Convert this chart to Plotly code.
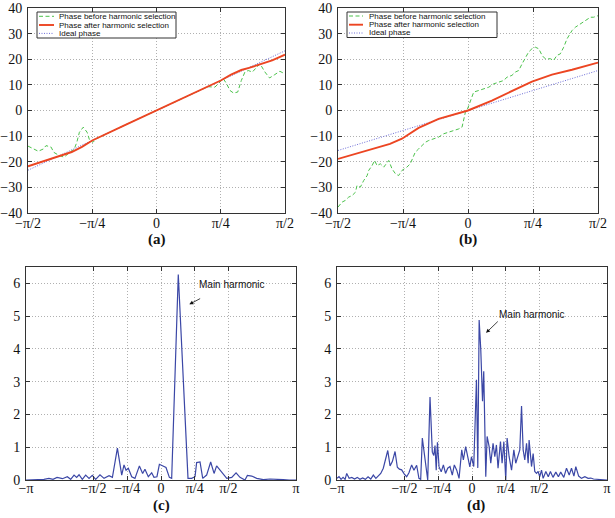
import plotly.graph_objects as go

# ---------------- data (x in units of pi) ----------------
top_tickvals = [-0.5, -0.25, 0, 0.25, 0.5]
top_ticktext = ["−π/2", "−π/4", "0", "π/4", "π/2"]
top_yticks = [-40, -30, -20, -10, 0, 10, 20, 30, 40]
bot_tickvals = [-1, -0.5, -0.25, 0, 0.25, 0.5, 1]
bot_ticktext = ["−π", "−π/2", "−π/4", "0", "π/4", "π/2", "π"]
bot_yticks = [0, 1, 2, 3, 4, 5, 6]

legend_labels = ["Phase before harmonic selection", "Phase after harmonic selection", "Ideal phase"]

# panel (a)
a_before_x = [-0.5, -0.48, -0.46, -0.44, -0.43, -0.41, -0.40, -0.38, -0.36, -0.34, -0.32, -0.31, -0.30,
              -0.285, -0.27, -0.26, -0.247, -0.234, -0.2, -0.1, 0.0, 0.1, 0.2, 0.227, 0.24, 0.26, 0.273,
              0.286, 0.3, 0.316, 0.33, 0.344, 0.357, 0.373, 0.39, 0.403, 0.422, 0.44, 0.46, 0.48, 0.5]
a_before_y = [-13.9, -15.0, -15.9, -15.0, -13.7, -14.3, -16.3, -17.5, -18.2, -16.6, -15.0, -12.4, -8.5,
              -6.5, -8.5, -11.7, -12.4, -11.0, -9.3, -4.6, 0.0, 4.6, 9.3, 9.1, 10.4, 12.4, 10.4,
              7.8, 6.8, 7.2, 11.7, 15.0, 15.6, 15.0, 16.9, 18.2, 15.0, 12.7, 14.0, 15.3, 14.3]
a_after_x = [-0.5, -0.45, -0.4, -0.37, -0.33, -0.29, -0.25, -0.125, 0.0, 0.125, 0.25, 0.29, 0.33, 0.36, 0.4, 0.45, 0.5]
a_after_y = [-21.8, -20.2, -18.6, -17.5, -16.2, -14.2, -11.7, -5.8, 0.0, 5.8, 11.7, 14.0, 15.8, 16.6, 17.8, 19.6, 21.8]
a_ideal_x = [-0.5, 0.5]
a_ideal_y = [-23.3, 23.3]

# panel (b)
b_before_x = [-0.5, -0.485, -0.472, -0.459, -0.446, -0.433, -0.427, -0.414, -0.401, -0.388, -0.382, -0.369,
              -0.359, -0.35, -0.337, -0.324, -0.305, -0.292, -0.279, -0.267, -0.254, -0.235, -0.222, -0.215,
              -0.203, -0.19, -0.177, -0.164, -0.151, -0.132, -0.113, -0.094, -0.074, -0.055, -0.036, -0.023,
              -0.017, -0.01, -0.004, 0.009, 0.022, 0.041, 0.06, 0.08, 0.099, 0.118, 0.137, 0.15, 0.169,
              0.182, 0.195, 0.208, 0.221, 0.233, 0.246, 0.259, 0.272, 0.285, 0.297, 0.317, 0.329, 0.342,
              0.355, 0.368, 0.381, 0.4, 0.413, 0.432, 0.451, 0.471, 0.483, 0.5]
b_before_y = [-37.7, -35.8, -35.1, -33.8, -33.2, -31.9, -29.3, -29.9, -27.3, -25.4, -23.4, -21.5,
              -19.5, -21.5, -20.8, -22.1, -19.5, -22.8, -24.7, -25.4, -23.4, -22.1, -20.8, -18.9,
              -16.3, -15.0, -13.7, -12.4, -11.7, -11.1, -10.4, -9.1, -8.5, -7.8, -7.2, -6.5,
              -3.9, -0.65, 0.0, 3.9, 7.2, 7.8, 8.5, 9.1, 10.4, 11.1, 11.7, 13.0, 13.7,
              15.0, 15.6, 18.2, 20.8, 22.8, 24.1, 24.7, 24.1, 21.5, 20.2, 20.2, 19.5, 21.5,
              22.1, 24.7, 28.0, 31.2, 32.5, 33.8, 35.1, 36.4, 36.4, 37.0]
b_after_x = [-0.5, -0.37, -0.3, -0.254, -0.19, -0.113, 0.0, 0.092, 0.17, 0.246, 0.323, 0.4, 0.5]
b_after_y = [-18.9, -15.0, -13.0, -11.0, -6.8, -3.3, 0.0, 3.9, 7.8, 11.3, 14.0, 15.9, 18.7]
b_ideal_x = [-0.5, 0.5]
b_ideal_y = [-15.6, 15.6]

# panel (c)
c_x = [-1.0, -0.95, -0.9, -0.867, -0.83, -0.8, -0.77, -0.73, -0.694, -0.669, -0.644, -0.625, -0.607,
       -0.583, -0.558, -0.533, -0.509, -0.484, -0.452, -0.422, -0.385, -0.36, -0.323, -0.291, -0.274,
       -0.259, -0.242, -0.217, -0.193, -0.16, -0.136, -0.119, -0.094, -0.069, -0.052, -0.03, -0.012,
       0.017, 0.037, 0.062, 0.079, 0.128, 0.2, 0.227, 0.252, 0.264, 0.289, 0.309, 0.338, 0.368, 0.393,
       0.412, 0.45, 0.487, 0.524, 0.556, 0.585, 0.622, 0.64, 0.672, 0.709, 0.758, 0.807, 0.857, 0.906,
       0.95, 1.0]
c_y = [0.0, 0.01, 0.0, 0.02, 0.05, 0.02, 0.08, 0.04, 0.1, 0.02, 0.15, 0.08, 0.16,
       0.02, 0.15, 0.05, 0.14, 0.02, 0.16, 0.05, 0.13, 0.08, 0.97, 0.15, 0.46,
       0.3, 0.36, 0.1, 0.05, 0.43, 0.2, 0.33, 0.1, 0.22, 0.08, 0.1, 0.48,
       0.42, 0.38, 0.08, 0.05, 6.27, 0.05, 0.05, 0.1, 0.53, 0.55, 0.05, 0.15, 0.55, 0.2,
       0.43, 0.25, 0.05, 0.08, 0.22, 0.08, 0.0, 0.14, 0.12, 0.05, 0.01, 0.03, 0.03, 0.01,
       0.0, 0.0]

# panel (d)
d_x = [-1.0, -0.985, -0.97, -0.955, -0.94, -0.928, -0.91, -0.89, -0.87, -0.85, -0.83, -0.81, -0.79,
       -0.77, -0.75, -0.731, -0.712, -0.694, -0.676, -0.657, -0.644, -0.624, -0.607, -0.59, -0.57,
       -0.553, -0.538, -0.521, -0.501, -0.484, -0.467, -0.447, -0.43, -0.41, -0.393, -0.38, -0.368,
       -0.348, -0.328, -0.311, -0.294, -0.283, -0.274, -0.265, -0.256, -0.244, -0.228, -0.212, -0.196,
       -0.18, -0.163, -0.146, -0.131, -0.113, -0.096, -0.076, -0.064, -0.047, -0.032, -0.016, -0.004,
       0.013, 0.033, 0.043, 0.053, 0.065, 0.078, 0.087, 0.102, 0.112, 0.127, 0.139, 0.156, 0.169,
       0.181, 0.193, 0.211, 0.223, 0.236, 0.25, 0.26, 0.275, 0.293, 0.31, 0.324, 0.341, 0.354, 0.367,
       0.379, 0.391, 0.404, 0.416, 0.423, 0.441, 0.453, 0.465, 0.478, 0.49, 0.502, 0.515, 0.527, 0.547,
       0.565, 0.581, 0.6, 0.621, 0.64, 0.657, 0.68, 0.7, 0.72, 0.737, 0.755, 0.769, 0.79, 0.811, 0.836,
       0.86, 0.88, 0.9, 0.93, 0.96, 1.0]
d_y = [0.05, 0.1, 0.02, 0.08, 0.02, 0.2, 0.05, 0.08, 0.03, 0.08, 0.02, 0.06, 0.02,
       0.1, 0.03, 0.15, 0.05, 0.14, 0.2, 0.36, 0.56, 0.9, 0.43, 0.56, 0.87,
       0.39, 0.33, 0.31, 0.18, 0.1, 0.22, 0.46, 0.3, 0.45, 0.05, 0.02, 1.28,
       0.71, 0.0, 2.53, 0.85, 0.75, 1.05, 0.3, 1.15, 0.4, 0.25, 0.46, 0.2,
       0.36, 0.41, 0.15, 0.46, 0.3, 0.05, 0.92, 0.61, 1.02, 0.71, 0.4, 0.71,
       0.41, 3.06, 0.37, 4.88, 3.98, 2.4, 3.32, 0.1, 1.33, 1.02, 0.51, 1.12, 0.71,
       1.07, 0.36, 1.17, 0.51, 1.17, 0.0, 1.28, 0.71, 0.3, 0.92, 0.51, 0.71, 0.92, 2.26,
       0.92, 0.61, 1.12, 0.51, 1.22, 0.41, 0.81, 0.26, 0.2, 0.26, 0.1, 0.3, 0.05, 0.26,
       0.1, 0.26, 0.08, 0.24, 0.1, 0.24, 0.08, 0.36, 0.15, 0.36, 0.12, 0.41, 0.12, 0.05, 0.1,
       0.05, 0.06, 0.03, 0.02, 0.02, 0.0]

# ---------------- styling ----------------
W, H = 615, 518
GREEN = "#4cc24c"
RED = "#ec4522"
IDEAL = "#6d6dd8"
SPEC = "#3b47a6"
SERIF = "Liberation Serif, Times New Roman, serif"
SANS = "Liberation Sans, Arial, sans-serif"


def fx(p):
    return p / W


def fy(p):
    return 1 - p / H


fig = go.Figure()

styles = [dict(color=GREEN, width=1, dash="4px,2.5px"),
          dict(color=RED, width=1.9),
          dict(color=IDEAL, width=1, dash="1px,1.5px")]

for (xs, ys, st, nm) in [(a_ideal_x, a_ideal_y, styles[2], legend_labels[2]),
                         (a_before_x, a_before_y, styles[0], legend_labels[0]),
                         (a_after_x, a_after_y, styles[1], legend_labels[1])]:
    fig.add_trace(go.Scatter(x=xs, y=ys, mode="lines", line=st, name=nm, showlegend=False,
                             xaxis="x", yaxis="y"))
for (xs, ys, st, nm) in [(b_ideal_x, b_ideal_y, styles[2], legend_labels[2]),
                         (b_before_x, b_before_y, styles[0], legend_labels[0]),
                         (b_after_x, b_after_y, styles[1], legend_labels[1])]:
    fig.add_trace(go.Scatter(x=xs, y=ys, mode="lines", line=st, name=nm, showlegend=False,
                             xaxis="x2", yaxis="y2"))
fig.add_trace(go.Scatter(x=c_x, y=c_y, mode="lines", line=dict(color=SPEC, width=1.2),
                         showlegend=False, xaxis="x3", yaxis="y3"))
fig.add_trace(go.Scatter(x=d_x, y=d_y, mode="lines", line=dict(color=SPEC, width=1.2),
                         showlegend=False, xaxis="x4", yaxis="y4"))

axis_common = dict(showline=True, linecolor="#333", linewidth=1, mirror="ticks", ticks="inside",
                   ticklen=4, tickcolor="#333", showgrid=True, gridcolor="#b0b0b0", griddash="1px,2px",
                   gridwidth=1, zeroline=False, automargin=False,
                   tickfont=dict(family=SERIF, size=14, color="#111"))
xstand = dict(ticklabelstandoff=-3)
ystand = dict(ticklabelstandoff=2)

top_y = [fy(213), fy(8)]
bot_y = [fy(480), fy(267)]

fig.update_layout(
    width=W, height=H, margin=dict(l=0, r=0, t=0, b=0, autoexpand=False),
    paper_bgcolor="white", plot_bgcolor="white", showlegend=False,
    xaxis=dict(domain=[fx(28), fx(285)], range=[-0.5, 0.5], tickvals=top_tickvals, ticktext=top_ticktext,
               anchor="y", **axis_common, **xstand),
    yaxis=dict(domain=top_y, range=[-40, 40], tickvals=top_yticks, anchor="x", **axis_common, **ystand),
    xaxis2=dict(domain=[fx(338), fx(598)], range=[-0.5, 0.5], tickvals=top_tickvals, ticktext=top_ticktext,
                anchor="y2", **axis_common, **xstand),
    yaxis2=dict(domain=top_y, range=[-40, 40], tickvals=top_yticks, anchor="x2", **axis_common, **ystand),
    xaxis3=dict(domain=[fx(26), fx(296)], range=[-1, 1], tickvals=bot_tickvals, ticktext=bot_ticktext,
                anchor="y3", **axis_common, ticklabelstandoff=-5),
    yaxis3=dict(domain=bot_y, range=[0, 6.5], tickvals=bot_yticks, anchor="x3", **axis_common, **ystand),
    xaxis4=dict(domain=[fx(337), fx(607)], range=[-1, 1], tickvals=bot_tickvals, ticktext=bot_ticktext,
                anchor="y4", **axis_common, ticklabelstandoff=-5),
    yaxis4=dict(domain=bot_y, range=[0, 6.5], tickvals=bot_yticks, anchor="x4", **axis_common, **ystand),
)

shapes = []
annotations = []


def add_legend(bx0, by0, bx1, by1, sx0, sx1, tx, ys):
    shapes.append(dict(type="rect", xref="paper", yref="paper", x0=fx(bx0), x1=fx(bx1), y0=fy(by1),
                       y1=fy(by0), line=dict(color="#333", width=1), fillcolor="white", layer="above"))
    for st, lab, yy in zip(styles, legend_labels, ys):
        shapes.append(dict(type="line", xref="paper", yref="paper", x0=fx(sx0), x1=fx(sx1), y0=fy(yy),
                           y1=fy(yy), line=st, layer="above"))
        annotations.append(dict(xref="paper", yref="paper", x=fx(tx), y=fy(yy), text=lab, showarrow=False,
                                xanchor="left", yanchor="middle",
                                font=dict(family=SANS, size=8, color="#111")))


add_legend(37, 12, 176, 38, 39, 54, 57, [16.3, 25, 33.4])
add_legend(347, 12, 497, 37.5, 349, 363, 366.5, [16, 24.7, 33])

# subplot labels
for lab, x, y in [("(a)", 157, 240), ("(b)", 468, 240), ("(c)", 161, 505), ("(d)", 476, 505)]:
    annotations.append(dict(xref="paper", yref="paper", x=fx(x), y=fy(y), text="<b>" + lab + "</b>",
                            showarrow=False, xanchor="center", yanchor="middle",
                            font=dict(family=SERIF, size=15, color="#111")))

# Main harmonic annotations
for xa, ya, tail, head, txt in [("x3", "y3", (0.301, 5.56), (0.21, 5.36), (0.264, 5.97)),
                                ("x4", "y4", (0.202, 4.88), (0.104, 4.49), (0.188, 5.05))]:
    annotations.append(dict(xref=xa, yref=ya, x=head[0], y=head[1], ax=tail[0], ay=tail[1],
                            axref=xa, ayref=ya, text="", showarrow=True, arrowhead=2, arrowsize=1,
                            arrowwidth=0.8, arrowcolor="#111"))
    annotations.append(dict(xref=xa, yref=ya, x=txt[0], y=txt[1], text="Main harmonic", showarrow=False,
                            xanchor="left", yanchor="middle", font=dict(family=SANS, size=10, color="#111")))

fig.update_layout(shapes=shapes, annotations=annotations)
fig.write_html("out.html", config={"displayModeBar": False},
               post_script="document.body.style.margin='0px';")
